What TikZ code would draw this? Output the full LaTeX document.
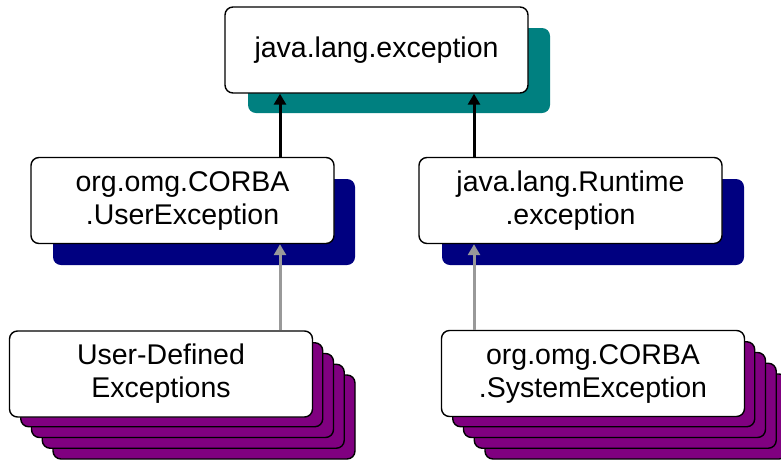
\documentclass[tikz,border=0pt]{standalone}
\usepackage{fontspec}
\setmainfont{Liberation Sans}
\usetikzlibrary{backgrounds,arrows.meta}
\definecolor{tealsh}{HTML}{008080}
\definecolor{navysh}{HTML}{000080}
\definecolor{purpsh}{HTML}{800080}
\definecolor{grayarr}{HTML}{999999}
\tikzset{
  box/.style={draw=black, line width=1.4pt, fill=white, rounded corners=8pt,
    minimum width=303pt, minimum height=86pt, align=center, inner sep=0pt,
    font=\fontsize{28.5}{33}\selectfont},
  stackbox/.style={draw=black, line width=1.4pt, fill=purpsh, rounded corners=8pt},
  blackarr/.style={line width=3pt, black, -{Triangle[width=12pt,length=11pt]}},
  grayarrow/.style={line width=3pt, grayarr, -{Triangle[width=12pt,length=11pt]}},
}
\begin{document}
\begin{tikzpicture}[x=1pt,y=1pt]
\useasboundingbox (0,0) rectangle (781,-459);
% shadows
\fill[tealsh, rounded corners=8pt] (248,-28) rectangle (550,-113);
\fill[navysh, rounded corners=8pt] (53,-179) rectangle (355,-265);
\fill[navysh, rounded corners=8pt] (442,-179) rectangle (744,-265);
\foreach \k in {4,3,2,1} {
  \draw[stackbox] ({10+10.75*\k},{-332-10.75*\k}) rectangle ({312+10.75*\k},{-416-10.75*\k});
  \draw[stackbox] ({442+10.75*\k},{-331-10.75*\k}) rectangle ({744+10.75*\k},{-416-10.75*\k});
}
% nodes
\node[box] (top) at (376.5,-50) {java.lang.exception};
\node[box] (ue) at (182.5,-200.5) {org.omg.CORBA\\.UserException};
\node[box] (rt) at (570.5,-200.5) {java.lang.Runtime\\.exception};
\node[box] (ud) at (161,-374) {User-Defined\\Exceptions};
\node[box] (se) at (593,-373.5) {org.omg.CORBA\\.SystemException};
% connectors
\draw[blackarr] (ue.north -| 280,0) -- (top.south -| 280,0);
\draw[blackarr] (rt.north -| 474,0) -- (top.south -| 474,0);
\draw[grayarrow] (ud.north -| 280,0) -- (ue.south -| 280,0);
\draw[grayarrow] (se.north -| 474,0) -- (rt.south -| 474,0);
\end{tikzpicture}
\end{document}
